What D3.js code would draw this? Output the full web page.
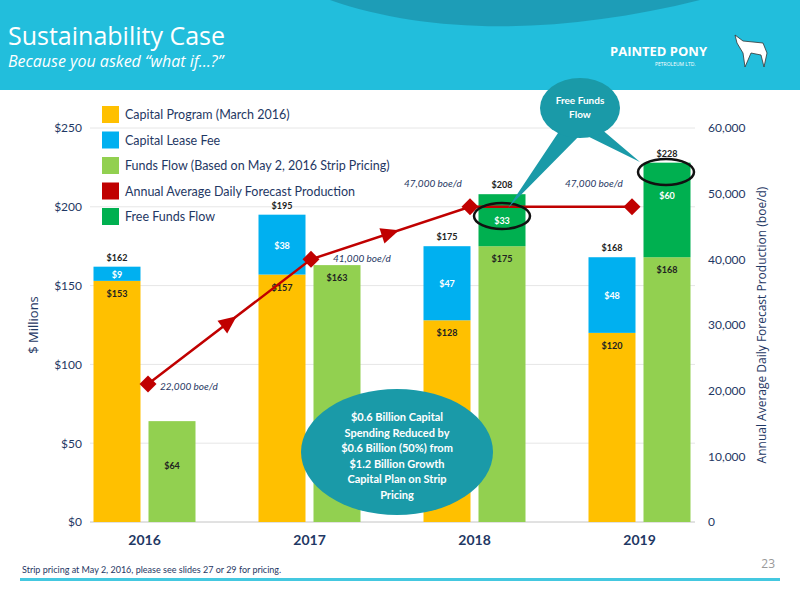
<!DOCTYPE html><html><head><meta charset="utf-8"><script src="https://cdn.jsdelivr.net/npm/d3@7"></script>
<style>body{margin:0;background:#fff}svg{font-family:"Open Sans",sans-serif}</style></head><body><svg id="c" width="800" height="600"></svg>
<script>
const years=["2016","2017","2018","2019"];
const capital=[153,157,128,120];
const lease=[9,38,47,48];
const funds=[64,163,175,168];
const freeFunds=[0,0,33,60];
const production=[21000,40000,48000,48000];
const prodLabels=["22,000 boe/d","41,000 boe/d","47,000 boe/d","47,000 boe/d"];
const leftTicks=[0,50,100,150,200,250];
const rightTicks=[0,10000,20000,30000,40000,50000,60000];
const C={cap:"#ffc000",lease:"#00b0f0",funds:"#92d050",prod:"#c00000",free:"#00b050",navy:"#1f3864",teal:"#1a9aa8"};
const NF="Lato, sans-serif";
const svg=d3.select("#c");
svg.append("rect").attr("width",800).attr("height",90).attr("fill","#22bedc");
svg.append("path").attr("d","M330,0 C430,35 560,35 700,0 Z").attr("fill","#1b8ea6").attr("opacity",.7);
svg.append("text").attr("x",8).attr("y",45).attr("fill","#fff").attr("font-size",25).text("Sustainability Case");
svg.append("text").attr("x",8).attr("y",67).attr("fill","#fff").attr("font-size",16).attr("font-style","italic").text("Because you asked “what if…?”");
svg.append("text").attr("x",610).attr("y",56).attr("fill","#fff").attr("font-size",13).attr("font-weight","bold").text("PAINTED PONY");
svg.append("text").attr("x",655).attr("y",66).attr("fill","#fff").attr("font-size",5).text("PETROLEUM LTD.");
svg.append("path").attr("d","M735,35 l8,6 l20,2 l4,10 l-3,14 l-3,-12 l-10,-2 l-6,14 l-2,-14 l-6,-10 z").attr("fill","#fff").attr("stroke","#333").attr("stroke-width",.8);
const x=d3.scaleBand().domain(years).range([62,722]);
const y=d3.scaleLinear().domain([0,250]).range([522,128]);
const y2=d3.scaleLinear().domain([0,60000]).range([522,128]);
const g=svg.append("g");
leftTicks.forEach(t=>g.append("line").attr("x1",90).attr("x2",695).attr("y1",y(t)).attr("y2",y(t)).attr("stroke","#e6e6e6"));
g.append("line").attr("x1",90).attr("x2",695).attr("y1",y(0)).attr("y2",y(0)).attr("stroke","#d0d0d0");
const ax=svg.append("g").attr("transform","translate(86,0)").call(d3.axisLeft(y).tickValues(leftTicks).tickFormat(d=>"$"+d).tickSize(0).tickPadding(4));
const ax2=svg.append("g").attr("transform","translate(704,0)").call(d3.axisRight(y2).tickValues(rightTicks).tickFormat(d3.format(",")).tickSize(0).tickPadding(4));
const ax3=svg.append("g").attr("transform","translate(0,527)").call(d3.axisBottom(x).tickSize(0).tickPadding(8));
[ax,ax2,ax3].forEach(a=>{a.select(".domain").remove();a.selectAll("text").attr("fill",C.navy).attr("font-size",12).attr("font-family",NF)});
ax3.selectAll("text").attr("font-size",14).attr("font-weight","bold");
svg.append("text").attr("transform","translate(38,325) rotate(-90)").attr("text-anchor","middle").attr("fill",C.navy).attr("font-size",13).text("$ Millions");
svg.append("text").attr("transform","translate(766,325) rotate(-90)").attr("text-anchor","middle").attr("fill",C.navy).attr("font-size",12).text("Annual Average Daily Forecast Production (boe/d)");
const bw=47;
const lbl=(xx,yy,t,col)=>svg.append("text").attr("x",xx).attr("y",yy).attr("text-anchor","middle").attr("font-size",9).attr("fill",col||"#222").attr("font-family",NF).attr("font-weight","bold").text(t);
years.forEach((yr,i)=>{
 const c=x(yr)+x.bandwidth()/2;
 const x1=c-51, x2=c+4;
 svg.append("rect").attr("x",x1).attr("width",bw).attr("y",y(capital[i])).attr("height",y(0)-y(capital[i])).attr("fill",C.cap);
 svg.append("rect").attr("x",x1).attr("width",bw).attr("y",y(capital[i]+lease[i])).attr("height",y(capital[i])-y(capital[i]+lease[i])).attr("fill",C.lease);
 svg.append("rect").attr("x",x2).attr("width",bw).attr("y",y(funds[i])).attr("height",y(0)-y(funds[i])).attr("fill",C.funds);
 if(freeFunds[i]) svg.append("rect").attr("x",x2).attr("width",bw).attr("y",y(funds[i]+freeFunds[i])).attr("height",y(funds[i])-y(funds[i]+freeFunds[i])).attr("fill",C.free);
 lbl(x1+bw/2,y(capital[i])+16,"$"+capital[i]);
 lbl(x1+bw/2,(y(capital[i])+y(capital[i]+lease[i]))/2+4,"$"+lease[i],"#fff");
 lbl(x1+bw/2,y(capital[i]+lease[i])-6,"$"+(capital[i]+lease[i]));
 lbl(x2+bw/2,y(funds[i])+ (i==0?48:16),"$"+funds[i]);
 if(freeFunds[i]){lbl(x2+bw/2,(y(funds[i])+y(funds[i]+freeFunds[i]))/2+(i==3?-11:4),"$"+freeFunds[i],"#fff");
  lbl(x2+bw/2,y(funds[i]+freeFunds[i])-6,"$"+(funds[i]+freeFunds[i]));}
});
const px=[148,311,470,632];
const pts=production.map((v,i)=>[px[i],y2(v)]);
svg.append("path").attr("d",d3.line()(pts)).attr("fill","none").attr("stroke",C.prod).attr("stroke-width",2.5);
pts.forEach(p=>svg.append("rect").attr("x",p[0]-6).attr("y",p[1]-6).attr("width",12).attr("height",12).attr("fill",C.prod).attr("transform",`rotate(45,${p[0]},${p[1]})`));
for(let i=0;i<2;i++){const a=pts[i],b=pts[i+1];const m=[(a[0]+b[0])/2,(a[1]+b[1])/2];const ang=Math.atan2(b[1]-a[1],b[0]-a[0])*180/Math.PI;
 svg.append("path").attr("d","M9,0 L-9,-8 L-9,8 Z").attr("fill",C.prod).attr("transform",`translate(${m[0]},${m[1]}) rotate(${ang})`);}
const pl=(xx,yy,t)=>svg.append("text").attr("x",xx).attr("y",yy).attr("font-size",10).attr("font-style","italic").attr("font-family",NF).attr("fill",C.navy).text(t);
pl(160,390,prodLabels[0]);pl(333,262,prodLabels[1]);pl(404,187,prodLabels[2]);pl(565,187,prodLabels[3]);
svg.append("ellipse").attr("cx",502).attr("cy",216).attr("rx",28).attr("ry",13).attr("fill","none").attr("stroke","#111").attr("stroke-width",2.5);
svg.append("ellipse").attr("cx",666).attr("cy",172).attr("rx",28).attr("ry",13).attr("fill","none").attr("stroke","#111").attr("stroke-width",2.5);
svg.append("path").attr("d","M560,130 L508,208 L585,130 Z M575,130 L640,162 L600,128 Z").attr("fill",C.teal);
svg.append("ellipse").attr("cx",580).attr("cy",108).attr("rx",40).attr("ry",30).attr("fill",C.teal);
svg.append("text").attr("x",580).attr("y",104).attr("text-anchor","middle").attr("fill","#fff").attr("font-size",10).attr("font-family",NF).attr("font-weight","bold").text("Free Funds");
svg.append("text").attr("x",580).attr("y",118).attr("text-anchor","middle").attr("fill","#fff").attr("font-size",10).attr("font-family",NF).attr("font-weight","bold").text("Flow");
svg.append("ellipse").attr("cx",397).attr("cy",452).attr("rx",96).attr("ry",63).attr("fill",C.teal);
["$0.6 Billion Capital","Spending Reduced by","$0.6 Billion (50%) from","$1.2 Billion Growth","Capital Plan on Strip","Pricing"].forEach((t,i)=>svg.append("text").attr("x",397).attr("y",421+i*15.5).attr("text-anchor","middle").attr("fill","#fff").attr("font-size",11).attr("font-family",NF).attr("font-weight","bold").text(t));
const leg=[["Capital Program (March 2016)",C.cap],["Capital Lease Fee",C.lease],["Funds Flow (Based on May 2, 2016 Strip Pricing)",C.funds],["Annual Average Daily Forecast Production",C.prod],["Free Funds Flow",C.free]];
leg.forEach((l,i)=>{const yy=106+i*25.5;svg.append("rect").attr("x",102).attr("y",yy).attr("width",17).attr("height",17).attr("fill",l[1]);
 svg.append("text").attr("x",125).attr("y",yy+13).attr("font-size",12.5).attr("font-family",NF).attr("fill",C.navy).text(l[0]);});
svg.append("text").attr("x",22).attr("y",573).attr("font-size",9).attr("font-family",NF).attr("fill",C.navy).text("Strip pricing at May 2, 2016, please see slides 27 or 29 for pricing.");
svg.append("text").attr("x",775).attr("y",568).attr("text-anchor","end").attr("font-size",12).attr("fill","#999").text("23");
svg.append("rect").attr("x",20).attr("y",578).attr("width",760).attr("height",3).attr("fill","#44c8e0");
</script></body></html>
